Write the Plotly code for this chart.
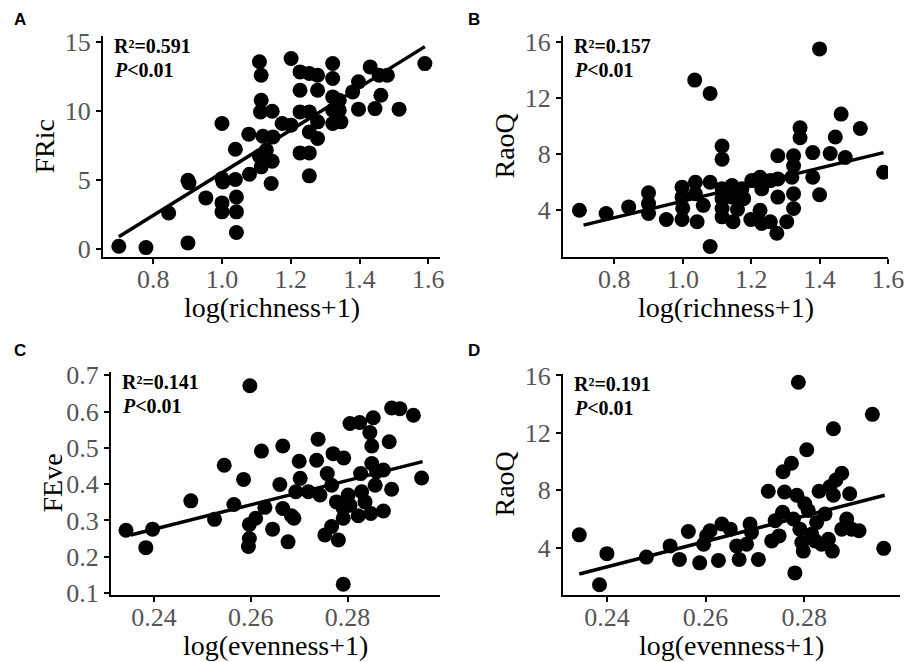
import plotly.graph_objects as go

# ---------------- data ----------------
# Panel A: FRic vs log(richness+1)
a_x = [0.700, 0.779, 0.901, 0.845, 0.901, 0.904, 0.953, 1.000, 1.000, 1.003, 1.000, 1.000, 1.039,
       1.039, 1.042, 1.042, 1.042, 1.078, 1.080, 1.109, 1.114, 1.129, 1.146, 1.109, 1.114, 1.114,
       1.112, 1.146, 1.119, 1.148, 1.143, 1.175, 1.201, 1.201, 1.227, 1.254, 1.278, 1.227, 1.278,
       1.227, 1.254, 1.278, 1.254, 1.278, 1.227, 1.254, 1.254, 1.322, 1.322, 1.322, 1.341, 1.322,
       1.341, 1.322, 1.346, 1.380, 1.397, 1.397, 1.431, 1.445, 1.462, 1.457, 1.481, 1.515, 1.590]
a_y = [0.17, 0.07, 0.41, 2.58, 4.95, 4.76, 3.67, 9.06, 5.07, 4.83, 3.31, 2.66, 7.20,
       5.00, 3.74, 2.66, 1.16, 8.29, 5.39, 6.69, 5.92, 7.13, 6.33, 13.53, 12.56, 10.75,
       9.90, 9.95, 8.14, 8.09, 4.71, 9.06, 8.94, 13.77, 12.80, 12.68, 12.56, 11.47, 11.47,
       9.90, 9.90, 9.18, 8.45, 7.97, 6.93, 6.93, 5.27, 13.41, 12.32, 10.99, 10.75, 10.02,
       10.02, 9.06, 9.18, 11.35, 12.08, 10.10, 13.16, 10.14, 11.11, 12.56, 12.56, 10.10, 13.40]
a_fit_x = [0.700, 1.590]
a_fit_y = [0.85, 14.63]

# Panel B: RaoQ vs log(richness+1)
b_x = [0.698, 0.776, 0.842, 0.900, 0.900, 0.900, 0.952, 0.998, 0.998, 0.998, 1.037, 1.037,
       1.042, 1.035, 1.080, 1.080, 1.080, 1.115, 1.115, 1.115, 1.115, 1.115, 1.115, 1.144,
       1.144, 1.147, 1.173, 1.178, 1.202, 1.199, 1.226, 1.231, 1.226, 1.231, 1.256, 1.256,
       1.275, 1.278, 1.278, 1.278, 1.304, 1.324, 1.324, 1.324, 1.324, 1.343, 1.343, 1.319,
       1.380, 1.380, 1.400, 1.400, 1.431, 1.446, 1.463, 1.475, 1.519, 1.587, 1.000, 1.060, 1.160]
b_y = [3.95, 3.72, 4.19, 5.20, 4.42, 3.72, 3.29, 5.60, 4.89, 3.29, 5.95, 5.13,
       3.13, 13.25, 12.30, 5.95, 1.36, 8.54, 7.60, 5.48, 4.78, 4.07, 3.48, 5.72,
       4.89, 3.13, 5.48, 4.78, 6.07, 3.29, 6.31, 5.48, 3.95, 3.01, 6.07, 3.13,
       2.31, 7.84, 6.19, 4.89, 3.13, 7.84, 7.13, 5.13, 4.07, 9.84, 9.13, 6.31,
       8.07, 6.31, 15.48, 5.06, 8.00, 9.18, 10.82, 7.72, 9.79, 6.66, 4.10, 4.30, 4.00]
b_fit_x = [0.710, 1.587]
b_fit_y = [2.89, 8.07]

# Panel C: FEve vs log(evenness+1)
c_x = [0.2342, 0.2383, 0.2397, 0.2476, 0.2525, 0.2545, 0.2565, 0.2585, 0.2598, 0.2597, 0.2597,
       0.2595, 0.2610, 0.2622, 0.2629, 0.2645, 0.2660, 0.2666, 0.2666, 0.2677, 0.2684, 0.2689,
       0.2700, 0.2702, 0.2693, 0.2719, 0.2736, 0.2739, 0.2743, 0.2753, 0.2758, 0.2767, 0.2767,
       0.2770, 0.2781, 0.2777, 0.2791, 0.2792, 0.2791, 0.2791, 0.2805, 0.2801, 0.2805, 0.2822,
       0.2825, 0.2827, 0.2829, 0.2836, 0.2846, 0.2850, 0.2853, 0.2850, 0.2848, 0.2857, 0.2860,
       0.2874, 0.2874, 0.2886, 0.2891, 0.2891, 0.2908, 0.2936, 0.2953]
c_y = [0.273, 0.225, 0.276, 0.354, 0.303, 0.452, 0.344, 0.413, 0.671, 0.289, 0.250,
       0.228, 0.306, 0.491, 0.336, 0.276, 0.399, 0.505, 0.333, 0.241, 0.313, 0.306,
       0.463, 0.416, 0.379, 0.379, 0.466, 0.524, 0.370, 0.260, 0.429, 0.397, 0.283,
       0.484, 0.246, 0.351, 0.124, 0.472, 0.333, 0.306, 0.567, 0.370, 0.342, 0.313,
       0.570, 0.429, 0.379, 0.351, 0.542, 0.505, 0.583, 0.457, 0.319, 0.397, 0.434,
       0.439, 0.326, 0.517, 0.386, 0.610, 0.608, 0.590, 0.417]
c_fit_x = [0.2352, 0.2955]
c_fit_y = [0.260, 0.462]

# Panel D: RaoQ vs log(evenness+1)
d_x = [0.2344, 0.2385, 0.2400, 0.2480, 0.2528, 0.2547, 0.2565, 0.2588, 0.2596, 0.2602, 0.2609,
       0.2626, 0.2633, 0.2650, 0.2663, 0.2668, 0.2683, 0.2690, 0.2693, 0.2707, 0.2727, 0.2734,
       0.2749, 0.2741, 0.2756, 0.2757, 0.2760, 0.2774, 0.2778, 0.2781, 0.2785, 0.2788, 0.2791,
       0.2795, 0.2798, 0.2801, 0.2805, 0.2808, 0.2815, 0.2822, 0.2825, 0.2830, 0.2835, 0.2842,
       0.2849, 0.2852, 0.2857, 0.2859, 0.2859, 0.2864, 0.2876, 0.2876, 0.2886, 0.2892, 0.2896,
       0.2911, 0.2938, 0.2961]
d_y = [4.89, 1.41, 3.58, 3.34, 4.12, 3.18, 5.13, 2.94, 4.24, 4.82, 5.18,
       3.11, 5.65, 5.29, 4.12, 3.18, 4.24, 5.65, 5.06, 3.18, 7.93, 4.47,
       4.82, 5.88, 6.47, 9.29, 7.88, 9.88, 6.00, 2.24, 7.65, 15.53, 5.29,
       4.35, 3.76, 7.06, 10.82, 6.59, 4.94, 4.47, 5.76, 7.93, 4.24, 6.35,
       4.59, 8.24, 3.76, 7.65, 12.28, 8.71, 9.18, 5.29, 6.00, 7.76, 5.29,
       5.18, 13.29, 3.95]
d_fit_x = [0.2344, 0.2963]
d_fit_y = [2.16, 7.65]

panels = [
    dict(letter="A", x=a_x, y=a_y, fx=a_fit_x, fy=a_fit_y, r2="0.591",
         xt="log(richness+1)", yt="FRic"),
    dict(letter="B", x=b_x, y=b_y, fx=b_fit_x, fy=b_fit_y, r2="0.157",
         xt="log(richness+1)", yt="RaoQ"),
    dict(letter="C", x=c_x, y=c_y, fx=c_fit_x, fy=c_fit_y, r2="0.141",
         xt="log(evenness+1)", yt="FEve"),
    dict(letter="D", x=d_x, y=d_y, fx=d_fit_x, fy=d_fit_y, r2="0.191",
         xt="log(evenness+1)", yt="RaoQ"),
]

# ---------------- layout geometry (pixels) ----------------
W, H = 907, 662
# (left, right, top, bottom) of each plot area
boxes = [(103, 440, 36, 257), (563, 888, 36, 257), (111, 440, 372, 595), (563, 900, 374, 595)]
xranges = [[0.654, 1.634], [0.650, 1.600], [0.2311, 0.2991], [0.2311, 0.2994]]
yranges = [[-0.61, 15.4], [0.61, 16.4], [0.0945, 0.709], [0.70, 16.1]]
xticks = [[0.8, 1.0, 1.2, 1.4, 1.6], [0.8, 1.0, 1.2, 1.4, 1.6], [0.24, 0.26, 0.28], [0.24, 0.26, 0.28]]
xfmt = [".1f", ".1f", ".2f", ".2f"]
yticks = [[0, 5, 10, 15], [4, 8, 12, 16], [0.1, 0.2, 0.3, 0.4, 0.5, 0.6, 0.7], [4, 8, 12, 16]]
yfmt = ["d", "d", ".1f", "d"]

SERIF = "Liberation Serif, Times New Roman, serif"
fig = go.Figure()
annotations = []
layout = dict(width=W, height=H, margin=dict(l=0, r=0, t=0, b=0, pad=0, autoexpand=False),
              template="none", paper_bgcolor="white", plot_bgcolor="white", showlegend=False)

for i, p in enumerate(panels):
    n = "" if i == 0 else str(i + 1)
    l, r, t, b = boxes[i]
    common = dict(showline=True, linecolor="black", linewidth=2, ticks="outside", ticklen=5,
                  tickwidth=2, tickcolor="black", showgrid=False, zeroline=False, automargin=False,
                  tickfont=dict(family=SERIF, size=26, color="#555555"))
    xa = dict(domain=[l / W, r / W], range=xranges[i], tickvals=xticks[i], tickformat=xfmt[i],
              anchor="y" + n, ticklabelstandoff=-7, **common)
    ya = dict(domain=[1 - b / H, 1 - t / H], range=yranges[i], tickvals=yticks[i], tickformat=yfmt[i],
              anchor="x" + n, **common)
    layout["xaxis" + n] = xa
    layout["yaxis" + n] = ya
    fig.add_trace(go.Scatter(x=p["x"], y=p["y"], mode="markers", xaxis="x" + n, yaxis="y" + n,
                             marker=dict(size=15, color="black", line=dict(width=0))))
    fig.add_trace(go.Scatter(x=p["fx"], y=p["fy"], mode="lines", xaxis="x" + n, yaxis="y" + n,
                             line=dict(color="black", width=3.5)))
    # panel letter
    lx = 12 if i % 2 == 0 else 466
    annotations.append(dict(x=lx / W, y=1 - (20 if i < 2 else 350) / H,
                            xref="paper", yref="paper", text="<b>%s</b>" % p["letter"],
                            showarrow=False, xanchor="left", yanchor="middle",
                            font=dict(family="Liberation Sans, Arial, sans-serif", size=17, color="black")))
    # stats text
    annotations.append(dict(x=(l + 9) / W, y=1 - (t + 10) / H, xref="paper", yref="paper",
                            text="<b>R²=%s</b>" % p["r2"], showarrow=False, xanchor="left",
                            yanchor="middle", font=dict(family=SERIF, size=20, color="black")))
    annotations.append(dict(x=(l + 9) / W, y=1 - (t + 34) / H, xref="paper", yref="paper",
                            text="<b><i>P</i>&lt;0.01</b>", showarrow=False, xanchor="left",
                            yanchor="middle", font=dict(family=SERIF, size=20, color="black")))
    # axis titles
    annotations.append(dict(x=(l + r) / 2 / W, y=1 - (b + 50) / H, xref="paper", yref="paper",
                            text=p["xt"], showarrow=False, xanchor="center", yanchor="middle",
                            font=dict(family=SERIF, size=28, color="black")))
    annotations.append(dict(x=(l - 59) / W, y=1 - (t + b) / 2 / H, xref="paper", yref="paper",
                            text=p["yt"], showarrow=False, xanchor="center", yanchor="middle",
                            textangle=-90, font=dict(family=SERIF, size=28, color="black")))

layout["annotations"] = annotations
fig.update_layout(**layout)
fig.write_html("out.html", config={"displayModeBar": False},
               post_script="document.body.style.margin='0';")
